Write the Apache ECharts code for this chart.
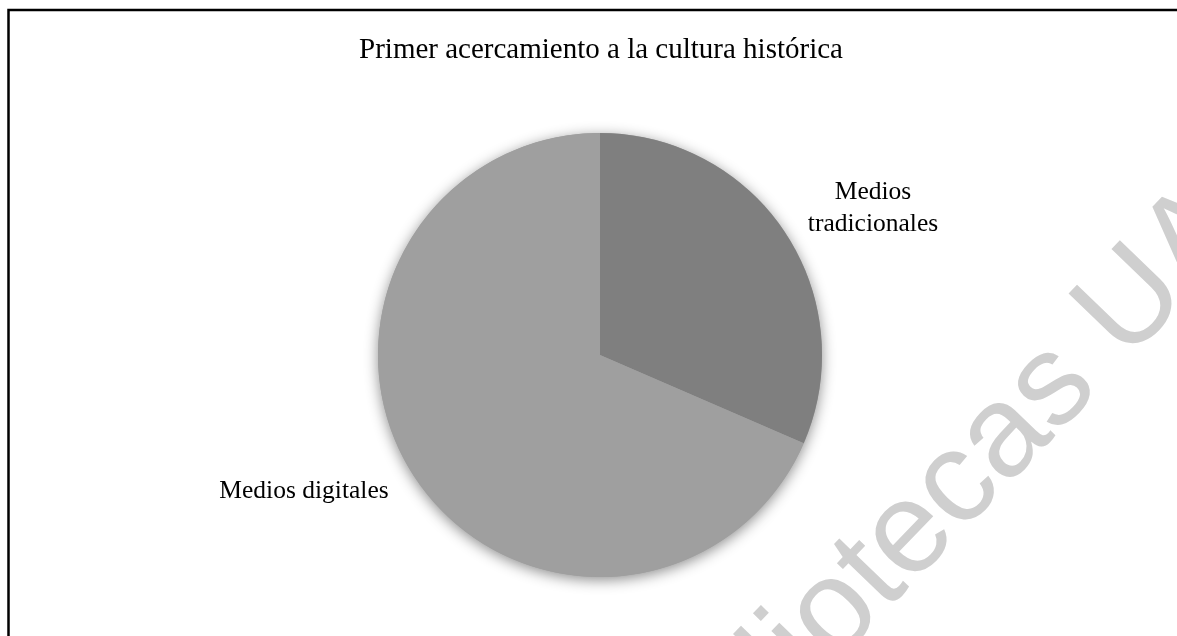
<!DOCTYPE html>
<html>
<head>
<meta charset="utf-8">
<title>Primer acercamiento a la cultura histórica</title>
<script src="https://cdn.jsdelivr.net/npm/echarts@6/dist/echarts.min.js"></script>
<style>
  html, body { margin: 0; padding: 0; background: #ffffff; }
  #chart { width: 1177px; height: 636px; }
</style>
</head>
<body>
<div id="chart"></div>
<script>
// Source categories and their shares (percent)
const titleText = 'Primer acercamiento a la cultura histórica';
const categories = ['Medios tradicionales', 'Medios digitales'];
const values = [31.5, 68.5];
const labelTexts = ['Medios\ntradicionales', 'Medios digitales'];
const sliceColors = ['#7f7f7f', '#9f9f9f'];

// Label anchor points (px) for each slice
const labelAnchors = [[873, 208], [304, 491]];

const total = values.reduce((a, b) => a + b, 0);
const serif = '"Liberation Serif", "Times New Roman", serif';
const center = [600, 355];
const radius = 222;

const chart = echarts.init(document.getElementById('chart'), null, { renderer: 'canvas' });

chart.setOption({
  backgroundColor: '#ffffff',
  animation: false,
  title: {
    text: titleText,
    left: 601,
    top: 36,
    padding: 0,
    textAlign: 'center',
    textStyle: { fontFamily: serif, fontSize: 29, fontWeight: 'normal', color: '#000000' }
  },
  graphic: [
    {
      // chart frame (open on the right and bottom)
      type: 'rect',
      z: 0,
      silent: true,
      shape: { x: 8.5, y: 10, width: 1300, height: 800 },
      style: { fill: 'none', stroke: '#000000', lineWidth: 2.5 }
    },
    {
      // library watermark
      type: 'text',
      z: 1,
      silent: true,
      x: 932,
      y: 512,
      rotation: 46 * Math.PI / 180,
      style: {
        text: 'Bibliotecas UA',
        fontFamily: '"Liberation Sans", Arial, sans-serif',
        fontSize: 130,
        fill: '#cfcfcf',
        textAlign: 'center',
        textVerticalAlign: 'middle',
        align: 'center',
        verticalAlign: 'middle'
      }
    }
  ],
  series: [
    {
      // soft drop shadow under the whole pie
      type: 'pie',
      silent: true,
      z: 2,
      center: center,
      radius: radius,
      label: { show: false },
      labelLine: { show: false },
      data: [{ value: total, name: '' }],
      itemStyle: {
        color: '#9f9f9f',
        shadowBlur: 14,
        shadowOffsetY: 3,
        shadowColor: 'rgba(0,0,0,0.45)'
      }
    },
    {
      type: 'pie',
      z: 3,
      center: center,
      radius: radius,
      startAngle: 90,
      clockwise: true,
      data: categories.map((name, i) => ({
        name: name,
        value: values[i],
        itemStyle: { color: sliceColors[i] }
      })),
      itemStyle: { borderWidth: 0 },
      label: {
        show: true,
        position: 'outside',
        formatter: (p) => labelTexts[p.dataIndex],
        fontFamily: serif,
        fontSize: 25.5,
        lineHeight: 32,
        color: '#000000',
        align: 'center'
      },
      labelLine: { show: false },
      labelLayout: (params) => ({
        x: labelAnchors[params.dataIndex][0],
        y: labelAnchors[params.dataIndex][1],
        align: 'center',
        verticalAlign: 'middle',
        hideOverlap: false
      })
    }
  ]
});
</script>
</body>
</html>
